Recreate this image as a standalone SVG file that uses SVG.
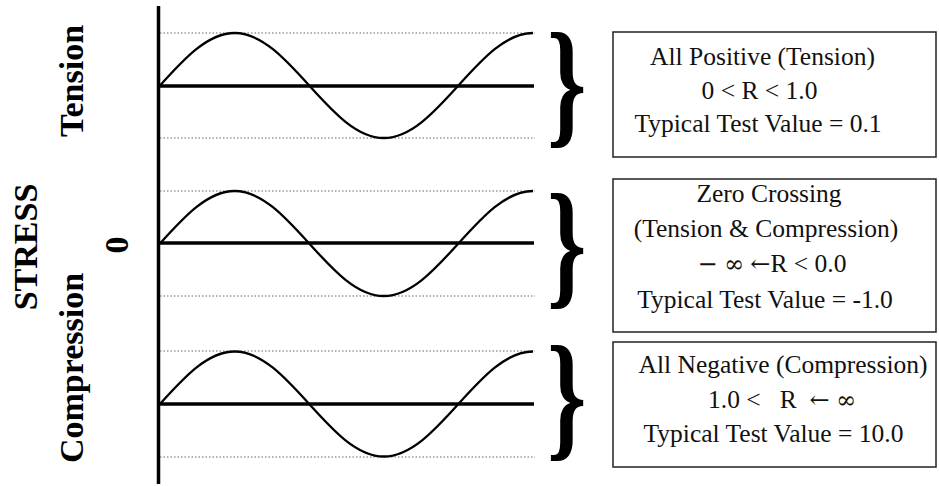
<svg xmlns="http://www.w3.org/2000/svg" width="939" height="486" viewBox="0 0 939 486">
<style>
.lbl{font-family:"Liberation Serif","Times New Roman",serif;font-weight:bold;font-size:34px;fill:#000;text-anchor:middle}
.bt{font-family:"Liberation Serif","DejaVu Serif",serif;font-size:25.5px;fill:#111;text-anchor:middle;white-space:pre}
.sym{font-family:"DejaVu Serif","Liberation Serif",serif;font-size:24px}
.brace{font-family:"Liberation Serif","DejaVu Serif",serif;font-weight:bold;font-size:100px;fill:#000}
.box{fill:#fff;stroke:#222;stroke-width:1.5}
.dot{stroke:#666;stroke-width:1;stroke-dasharray:1.5 2;fill:none}
.base{stroke:#000;stroke-width:3.5;fill:none}
.wave{stroke:#000;stroke-width:2.3;fill:none}
.axis{stroke:#000;stroke-width:3.5}
</style>
<defs>
<path id="sine" d="M0,0 c24.33,-26.9 47.6,-52.5 74.6,-52.5 c27,0 50.27,25.6 74.6,52.5 c24.33,26.9 47.6,52.5 74.6,52.5 c27,0 50.27,-25.6 74.6,-52.5 c24.33,-26.9 47.6,-52.5 74.6,-52.5"/>
</defs>
<rect width="939" height="486" fill="#fff"/>

<g id="labels">
<text class="lbl" transform="translate(83,81) rotate(-90)">Tension</text>
<text class="lbl" transform="translate(37,247) rotate(-90)">STRESS</text>
<text class="lbl" transform="translate(128,245) rotate(-90)">0</text>
<text class="lbl" transform="translate(83,368) rotate(-90)">Compression</text>
</g>

<g id="axis">
<line class="axis" x1="158.5" y1="6" x2="158.5" y2="484"/>
</g>

<g id="panel1">
<line class="dot" x1="160" y1="33" x2="535" y2="33"/>
<line class="dot" x1="160" y1="138" x2="535" y2="138"/>
<line class="base" x1="160" y1="86" x2="534" y2="86"/>
<use href="#sine" class="wave" x="160" y="85.5"/>
</g>
<g id="panel2">
<line class="dot" x1="160" y1="191" x2="535" y2="191"/>
<line class="dot" x1="160" y1="296" x2="535" y2="296"/>
<line class="base" x1="160" y1="243" x2="534" y2="243"/>
<use href="#sine" class="wave" x="160" y="243.5"/>
</g>
<g id="panel3">
<line class="dot" x1="160" y1="351" x2="535" y2="351"/>
<line class="dot" x1="160" y1="457" x2="535" y2="457"/>
<line class="base" x1="160" y1="404" x2="534" y2="404"/>
<use href="#sine" class="wave" x="160" y="404"/>
</g>

<g id="connectors">
<text class="brace" transform="translate(547,129) scale(1,1.4)">}</text>
<text class="brace" transform="translate(547,290) scale(1,1.4)">}</text>
<text class="brace" transform="translate(547,442) scale(1,1.4)">}</text>
</g>

<g id="box1">
<rect class="box" x="613" y="32" width="323" height="125"/>
<text class="bt" x="762.5" y="65">All Positive (Tension)</text>
<text class="bt" x="759.5" y="99">0 &lt; R &lt; 1.0</text>
<text class="bt" x="758" y="132">Typical Test Value = 0.1</text>
</g>
<g id="box2">
<rect class="box" x="613" y="179" width="323" height="153"/>
<text class="bt" x="769" y="202">Zero Crossing</text>
<text class="bt" x="766" y="237">(Tension &amp; Compression)</text>
<text class="bt" x="772" y="272"><tspan class="sym">−</tspan> <tspan class="sym">∞</tspan> <tspan class="sym">←</tspan>R &lt; 0.0</text>
<text class="bt" x="765" y="308">Typical Test Value = -1.0</text>
</g>
<g id="box3">
<rect class="box" x="613" y="342" width="323" height="125"/>
<text class="bt" x="783" y="373">All Negative (Compression)</text>
<text class="bt" x="782" y="408">1.0 &lt;   R  <tspan class="sym">←</tspan> <tspan class="sym">∞</tspan></text>
<text class="bt" x="773.5" y="442">Typical Test Value = 10.0</text>
</g>
</svg>
